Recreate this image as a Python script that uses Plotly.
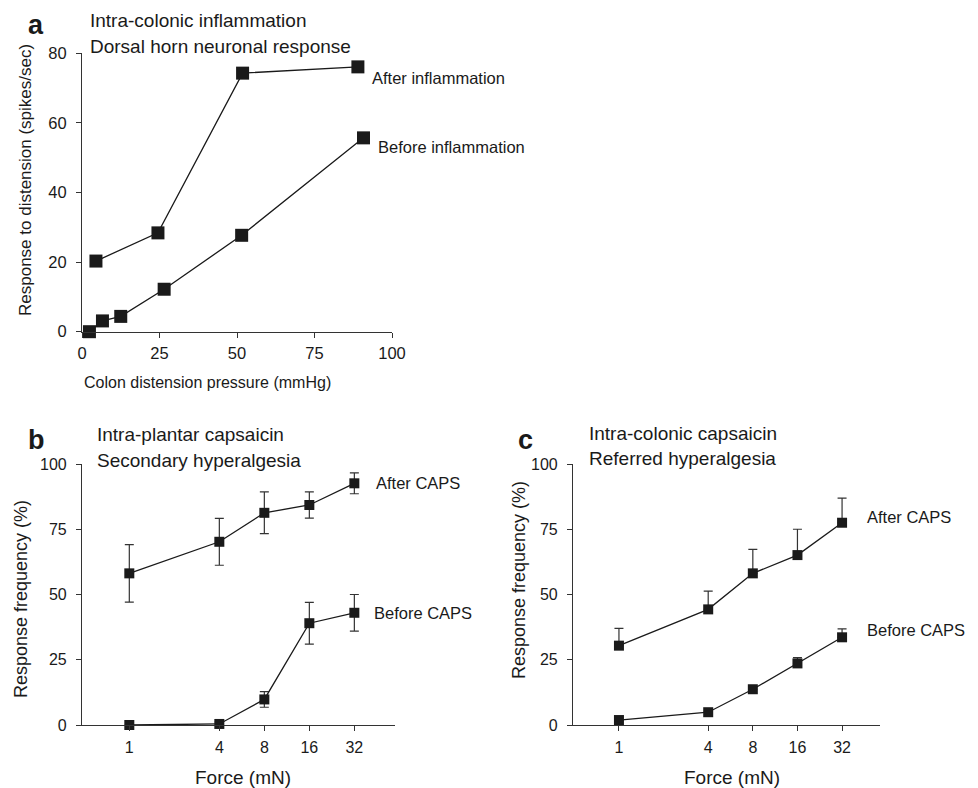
import math
import plotly.graph_objects as go

W, H = 978, 788
FONT = "Liberation Sans, Arial, Helvetica, sans-serif"
INK = "#1a1a1a"

# ---------------- data ----------------
# Panel a
a_after_x = [4.5, 24.5, 51.8, 89.0]
a_after_y = [20.3, 28.4, 74.3, 76.1]
a_before_x = [2.4, 6.6, 12.5, 26.5, 51.5, 90.8]
a_before_y = [0.0, 3.1, 4.4, 12.2, 27.7, 55.7]
a_xticks = [0, 25, 50, 75, 100]
a_yticks = [0, 20, 40, 60, 80]

# Panels b and c (force in mN)
force = [1, 4, 8, 16, 32]
b_after = [58.1, 70.2, 81.3, 84.3, 92.6]
b_after_err = [11.0, 9.0, 8.0, 5.0, 4.0]
b_before = [0.0, 0.4, 9.8, 39.0, 43.0]
b_before_err = [0.0, 0.8, 3.0, 8.0, 7.0]

c_after = [30.4, 44.3, 58.1, 65.1, 77.5]
c_after_err = [6.6, 7.0, 9.2, 9.9, 9.4]
c_before = [1.9, 4.9, 13.7, 23.6, 33.6]
c_before_err = [0.0, 0.0, 1.0, 2.2, 3.2]
pct_ticks = [0, 25, 50, 75, 100]


def px(x):
    return x / W


def py(y):
    return 1 - y / H


fig = go.Figure()

line_style = dict(color=INK, width=1.3)

# Panel a
for xs, ys in ((a_after_x, a_after_y), (a_before_x, a_before_y)):
    fig.add_trace(go.Scatter(x=xs, y=ys, mode="lines+markers", line=line_style,
                             marker=dict(symbol="square", size=13, color=INK),
                             cliponaxis=False, xaxis="x", yaxis="y", showlegend=False))

err_style = dict(type="data", visible=True, color="#333333", thickness=1.2, width=4.5)

# Panel b (symmetric error bars)
for ys, es in ((b_after, b_after_err), (b_before, b_before_err)):
    fig.add_trace(go.Scatter(x=force, y=ys, mode="lines+markers", line=line_style,
                             marker=dict(symbol="square", size=10, color=INK),
                             error_y=dict(array=es, **err_style),
                             cliponaxis=False, xaxis="x2", yaxis="y2", showlegend=False))

# Panel c (upper error bars only)
for ys, es in ((c_after, c_after_err), (c_before, c_before_err)):
    fig.add_trace(go.Scatter(x=force, y=ys, mode="lines+markers", line=line_style,
                             marker=dict(symbol="square", size=10, color=INK),
                             error_y=dict(array=es, arrayminus=[0] * len(force),
                                          symmetric=False, **err_style),
                             cliponaxis=False, xaxis="x3", yaxis="y3", showlegend=False))


def axis_common(size):
    return dict(showline=True, linecolor="#333333", linewidth=1.2,
                ticks="outside", ticklen=5, tickwidth=1.2, tickcolor="#333333",
                showgrid=False, zeroline=False, automargin=False,
                tickfont=dict(family=FONT, size=size, color=INK))


fig.update_layout(
    width=W, height=H, autosize=False,
    margin=dict(l=0, r=0, t=0, b=0, pad=0, autoexpand=False),
    paper_bgcolor="white", plot_bgcolor="white",
    font=dict(family=FONT, size=16, color=INK),
    xaxis=dict(domain=[px(82), px(392)], range=[0, 100], tickvals=a_xticks,
               anchor="y", ticklabelstandoff=1, **axis_common(16.5)),
    yaxis=dict(domain=[py(331.7), py(53.3)], range=[0, 80], tickvals=a_yticks,
               anchor="x", ticklabelstandoff=6, **axis_common(16.5)),
    xaxis2=dict(domain=[px(82), px(395)], type="log", range=[-0.3164, 1.777],
                tickvals=force, ticktext=[str(f) for f in force],
                anchor="y2", ticklabelstandoff=3, **axis_common(16)),
    yaxis2=dict(domain=[py(725), py(464)], range=[0, 100], tickvals=pct_ticks,
                anchor="x2", ticklabelstandoff=6, **axis_common(16)),
    xaxis3=dict(domain=[px(573), px(880)], type="log", range=[-0.310, 1.761],
                tickvals=force, ticktext=[str(f) for f in force],
                anchor="y3", ticklabelstandoff=3, **axis_common(16)),
    yaxis3=dict(domain=[py(725), py(464)], range=[0, 100], tickvals=pct_ticks,
                anchor="x3", ticklabelstandoff=6, **axis_common(16)),
)

ann = []


def paper_text(text, x, y, size=16, bold=False, xanchor="left", angle=0):
    t = f"<b>{text}</b>" if bold else text
    ann.append(dict(text=t, x=px(x), y=py(y), xref="paper", yref="paper",
                    xanchor=xanchor, yanchor="middle", showarrow=False,
                    textangle=angle, borderpad=0,
                    font=dict(family=FONT, size=size, color=INK)))


# panel letters
paper_text("a", 27, 25, size=27, bold=True)
paper_text("b", 27, 440, size=27, bold=True)
paper_text("c", 517, 440, size=27, bold=True)

# panel headings
paper_text("Intra-colonic inflammation", 89, 21, size=19)
paper_text("Dorsal horn neuronal response", 89, 46, size=19)
paper_text("Intra-plantar capsaicin", 96, 435, size=19)
paper_text("Secondary hyperalgesia", 96, 460, size=19)
paper_text("Intra-colonic capsaicin", 588, 433, size=19)
paper_text("Referred hyperalgesia", 588, 458, size=19)

# axis titles
paper_text("Response to distension (spikes/sec)", 25, 180, size=17, xanchor="center", angle=-90)
paper_text("Colon distension pressure (mmHg)", 207, 382, size=16, xanchor="center")
paper_text("Response frequency (%)", 21, 599, size=18, xanchor="center", angle=-90)
paper_text("Force (mN)", 243, 777, size=19, xanchor="center")
paper_text("Response frequency (%)", 519, 580, size=18, xanchor="center", angle=-90)
paper_text("Force (mN)", 732, 777, size=19, xanchor="center")


def series_label(text, x, y, xa, ya, xshift, yshift):
    ann.append(dict(text=text, x=x, y=y, xref=xa, yref=ya, xanchor="left",
                    yanchor="middle", showarrow=False, xshift=xshift, yshift=yshift,
                    borderpad=0, font=dict(family=FONT, size=16.5, color=INK)))


series_label("After inflammation", a_after_x[-1], a_after_y[-1], "x", "y", 13, -11)
series_label("Before inflammation", a_before_x[-1], a_before_y[-1], "x", "y", 14, -9)
series_label("After CAPS", math.log10(force[-1]), b_after[-1], "x2", "y2", 21, 0)
series_label("Before CAPS", math.log10(force[-1]), b_before[-1], "x2", "y2", 19, 0)
series_label("After CAPS", math.log10(force[-1]), c_after[-1], "x3", "y3", 24, 6)
series_label("Before CAPS", math.log10(force[-1]), c_before[-1], "x3", "y3", 24, 7)

fig.update_layout(annotations=ann)
fig.write_html(
    "out.html",
    config={"displayModeBar": False, "responsive": False},
    post_script="document.body.style.margin='0';document.body.style.overflow='hidden';",
)
